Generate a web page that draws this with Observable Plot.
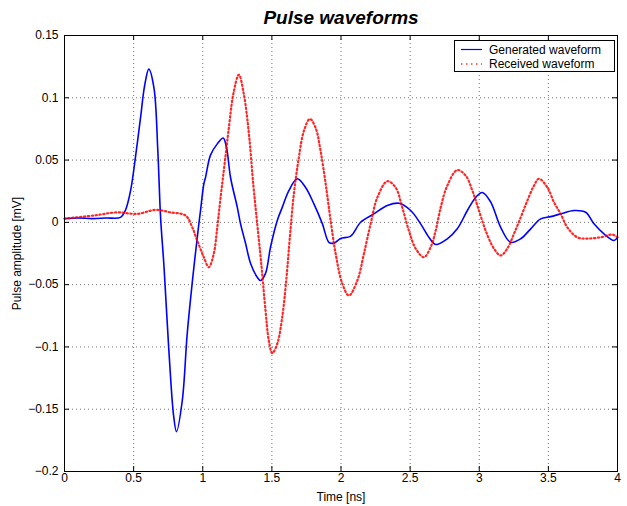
<!DOCTYPE html>
<html><head><meta charset="utf-8">
<script src="https://cdn.jsdelivr.net/npm/d3@7"></script>
<script src="https://cdn.jsdelivr.net/npm/@observablehq/plot@0.6"></script>
<style>
body{margin:0;background:#fff;font-family:"Liberation Sans",Arial,sans-serif}
#wrap{position:relative;width:627px;height:506px}
#legend{position:absolute;left:454px;top:40px}
</style></head><body><div id="wrap"></div>
<script>
const title = "Pulse waveforms";
const xLabel = "Time [ns]";
const yLabel = "Pulse amplitude [mV]";
const seriesNames = ["Generated waveform", "Received waveform"];
const xTicks = [0, 0.5, 1, 1.5, 2, 2.5, 3, 3.5, 4];
const yTicks = [-0.2, -0.15, -0.1, -0.05, 0, 0.05, 0.1, 0.15];

const genTime = [0,0.1,0.2,0.3,0.405,0.44,0.478,0.51,0.55,0.58,0.61,0.647,0.675,0.695,0.72,0.755,0.79,0.81,0.852,0.888,0.936,0.972,0.984,1.008,1.02,1.056,1.105,1.148,1.172,1.201,1.25,1.273,1.31,1.346,1.394,1.418,1.454,1.49,1.539,1.575,1.623,1.684,1.744,1.804,1.865,1.913,1.949,1.997,2.07,2.142,2.238,2.335,2.42,2.504,2.576,2.636,2.685,2.769,2.841,2.914,2.974,3.022,3.082,3.155,3.227,3.3,3.372,3.444,3.517,3.589,3.685,3.77,3.83,3.902,3.975,4.0];
const genAmp = [0.003,0.0035,0.003,0.0035,0.004,0.0095,0.0255,0.0495,0.084,0.11,0.123,0.108,0.0575,0.004,-0.036,-0.103,-0.156,-0.168,-0.143,-0.089,-0.036,-0.001,0.0095,0.031,0.036,0.054,0.063,0.0677,0.06,0.036,0.012,-0.001,-0.017,-0.033,-0.044,-0.0467,-0.041,-0.02,0.0015,0.012,0.0255,0.035,0.028,0.0148,-0.001,-0.016,-0.0167,-0.013,-0.011,0.0001,0.0068,0.0135,0.0153,0.0095,-0.0012,-0.012,-0.0178,-0.0132,-0.0052,0.0095,0.02,0.024,0.0165,-0.004,-0.016,-0.0132,-0.0052,0.0028,0.0046,0.0068,0.0095,0.0081,-0.0012,-0.0092,-0.0146,-0.012];

const recTime = [0,0.212,0.381,0.526,0.658,0.767,0.876,0.924,0.96,1.008,1.044,1.08,1.105,1.129,1.158,1.189,1.221,1.261,1.297,1.334,1.365,1.394,1.423,1.454,1.478,1.503,1.539,1.575,1.606,1.63,1.659,1.695,1.732,1.775,1.816,1.852,1.889,1.925,1.961,2.009,2.057,2.118,2.166,2.214,2.263,2.335,2.395,2.443,2.491,2.54,2.6,2.648,2.685,2.721,2.769,2.841,2.902,2.95,2.998,3.046,3.106,3.155,3.203,3.251,3.3,3.348,3.396,3.432,3.493,3.541,3.589,3.637,3.709,3.782,3.878,3.963,4.0];
const recAmp = [0.003,0.0055,0.008,0.0068,0.01,0.008,0.0055,-0.004,-0.0146,-0.028,-0.036,-0.025,-0.004,0.02,0.047,0.076,0.103,0.1185,0.103,0.071,0.031,-0.0012,-0.033,-0.0707,-0.095,-0.105,-0.0974,-0.076,-0.044,-0.012,0.0228,0.052,0.0736,0.083,0.076,0.0575,0.031,0.0014,-0.025,-0.049,-0.0587,-0.0467,-0.025,-0.0012,0.02,0.033,0.028,0.012,-0.0066,-0.021,-0.028,-0.02,-0.0066,0.012,0.0295,0.042,0.0375,0.0255,0.0095,-0.0066,-0.021,-0.0266,-0.021,-0.0092,0.004,0.0175,0.0295,0.035,0.028,0.016,0.0068,-0.004,-0.012,-0.013,-0.012,-0.0098,-0.012];

const gen = genTime.map((t, i) => ({t, v: genAmp[i]}));
const rec = recTime.map((t, i) => ({t, v: recAmp[i]}));

const W = 627, H = 506, mL = 64, mR = 10, mT = 35, mB = 35;
const innerW = W - mL - mR, innerH = H - mT - mB;
const fmt = d => d === 0 ? "0" : String(+d.toFixed(2)).replace("-", "\u2212");
const FONT = "'Liberation Sans', Arial, Helvetica, sans-serif";

const chart = Plot.plot({
  width: W, height: H,
  marginLeft: mL, marginRight: mR, marginTop: mT, marginBottom: mB,
  style: {fontFamily: FONT, fontSize: "12px", color: "#000", background: "#fff", overflow: "visible"},
  x: {domain: [0, 4]},
  y: {domain: [-0.2, 0.15]},
  marks: [
    Plot.gridX(xTicks.slice(1, -1), {stroke: "#000", strokeOpacity: 0.55, strokeDasharray: "1,3"}),
    Plot.gridY(yTicks.slice(1, -1), {stroke: "#000", strokeOpacity: 0.55, strokeDasharray: "1,3"}),
    Plot.line(gen, {x: "t", y: "v", stroke: "#0000ff", strokeWidth: 1.6, curve: "catmull-rom"}),
    Plot.line(rec, {x: "t", y: "v", stroke: "#ff0000", strokeWidth: 2.2, strokeDasharray: "1.3,2.6", strokeOpacity: 0.85, curve: "catmull-rom"}),
    Plot.tickX(xTicks, {x: d => d, insetTop: innerH - 5, stroke: "#000"}),
    Plot.tickX(xTicks, {x: d => d, insetBottom: innerH - 5, stroke: "#000"}),
    Plot.tickY(yTicks, {y: d => d, insetRight: innerW - 5, stroke: "#000"}),
    Plot.tickY(yTicks, {y: d => d, insetLeft: innerW - 5, stroke: "#000"}),
    Plot.axisX(xTicks, {tickSize: 0, tickPadding: 1.5, tickFormat: fmt, fontSize: 12,
      label: xLabel, labelAnchor: "center", labelArrow: "none", labelOffset: 29}),
    Plot.axisY(yTicks, {tickSize: 0, tickPadding: 6, tickFormat: fmt, fontSize: 12,
      label: yLabel, labelAnchor: "center", labelArrow: "none", labelOffset: 52}),
    Plot.frame({stroke: "#000", strokeWidth: 1}),
    Plot.text([title], {frameAnchor: "top", lineAnchor: "bottom", dy: -12, fontSize: 19, fontWeight: "bold", fontStyle: "italic"})
  ]
});

const wrap = document.getElementById("wrap");
wrap.appendChild(chart);

// legend overlay
const ns = "http://www.w3.org/2000/svg";
const lg = document.createElementNS(ns, "svg");
lg.setAttribute("id", "legend");
lg.setAttribute("width", 161);
lg.setAttribute("height", 32);
lg.style.fontFamily = FONT;
lg.innerHTML = `
  <rect x="0.5" y="0.5" width="160" height="31" fill="#fff" stroke="#000" stroke-width="1"/>
  <line x1="7" x2="28" y1="9.5" y2="9.5" stroke="#0000ff" stroke-width="1.2"/>
  <line x1="7" x2="28" y1="24" y2="24" stroke="#ff0000" stroke-width="2" stroke-dasharray="1.5,3.5" stroke-opacity="0.6"/>
  <text x="35" y="14" font-size="12" fill="#000">${seriesNames[0]}</text>
  <text x="35" y="28" font-size="12" fill="#000">${seriesNames[1]}</text>`;
wrap.appendChild(lg);
</script>
</body></html>
